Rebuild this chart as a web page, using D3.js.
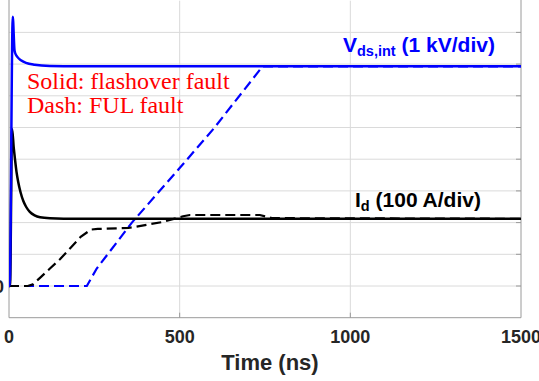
<!DOCTYPE html>
<html>
<head>
<meta charset="utf-8">
<script src="https://cdn.jsdelivr.net/npm/d3@7.9.0/dist/d3.min.js"></script>
<style>
  html, body { margin: 0; padding: 0; background: #fff; }
  svg { display: block; }
</style>
</head>
<body>
<svg id="chart" width="539" height="381"></svg>
<script>
// time (ns) / value (div) pairs
const vdsSolidT = [0, 2, 11, 16, 18, 25, 35, 50, 75, 120, 200, 1500];
const vdsSolidV = [0, 0, 8.49, 7.45, 7.35, 7.22, 7.12, 7.04, 6.98, 6.94, 6.93, 6.93];

const vdsDashT = [0, 228, 257, 360, 500, 600, 743, 1500];
const vdsDashV = [0, 0, 0.55, 2.0, 3.72, 4.97, 6.93, 6.93];

const idSolidT = [0, 3, 9, 14, 17.5, 22, 27, 34, 42, 50, 61, 75, 91, 120, 200, 1500];
const idSolidV = [0, 0, 4.95, 4.35, 4.0, 3.6, 3.28, 2.95, 2.68, 2.5, 2.34, 2.23, 2.17, 2.14, 2.12, 2.12];

const idDashT = [0, 55, 70, 90, 120, 150, 180, 210, 240, 260, 350, 450, 510, 530, 735, 770, 1500];
const idDashV = [0, 0, 0.05, 0.25, 0.55, 0.85, 1.2, 1.55, 1.78, 1.8, 1.83, 2.02, 2.2, 2.24, 2.24, 2.14, 2.12];

const xTicks = [0, 500, 1000, 1500];
const yGrid = [0, 1, 2, 3, 4, 5, 6, 7, 8];

const svg = d3.select('#chart');
const x = d3.scaleLinear().domain([0, 1500]).range([9, 521]);
const y = d3.scaleLinear().domain([-1, 9]).range([317.7, 0.7]);

// grid
svg.append('g').selectAll('line').data(yGrid).join('line')
  .attr('x1', x(0)).attr('x2', x(1500))
  .attr('y1', d => y(d)).attr('y2', d => y(d))
  .attr('stroke', '#dadada').attr('stroke-width', 1);
svg.append('g').selectAll('line').data([500, 1000]).join('line')
  .attr('x1', d => x(d)).attr('x2', d => x(d))
  .attr('y1', y(-1)).attr('y2', y(9))
  .attr('stroke', '#dadada').attr('stroke-width', 1);

// box + ticks
const axisCol = '#9a9a9a';
svg.append('line').attr('x1', x(0)).attr('x2', x(0)).attr('y1', y(-1)).attr('y2', 0)
  .attr('stroke', axisCol);
svg.append('line').attr('x1', x(1500)).attr('x2', x(1500)).attr('y1', y(-1)).attr('y2', 0)
  .attr('stroke', axisCol);
svg.append('line').attr('x1', x(0)).attr('x2', x(1500)).attr('y1', y(-1)).attr('y2', y(-1))
  .attr('stroke', axisCol);
svg.append('g').selectAll('line').data(yGrid).join('line')
  .attr('x1', x(1500) - 5).attr('x2', x(1500))
  .attr('y1', d => y(d)).attr('y2', d => y(d))
  .attr('stroke', axisCol);
svg.append('g').selectAll('line').data([500, 1000]).join('line')
  .attr('x1', d => x(d)).attr('x2', d => x(d))
  .attr('y1', y(-1)).attr('y2', y(-1) - 5)
  .attr('stroke', axisCol);

// tick labels
svg.append('g').selectAll('text').data(xTicks).join('text')
  .attr('x', d => x(d)).attr('y', 343)
  .attr('text-anchor', 'middle')
  .attr('font-family', 'Liberation Sans, Arial, sans-serif')
  .attr('font-weight', 'bold').attr('font-size', 18).attr('fill', '#262626')
  .text(d => d);
svg.append('text').attr('x', 4).attr('y', y(0) + 6.5)
  .attr('text-anchor', 'end')
  .attr('font-family', 'Liberation Sans, Arial, sans-serif')
  .attr('font-weight', 'bold').attr('font-size', 18).attr('fill', '#262626')
  .text('0');
svg.append('text').attr('x', 270).attr('y', 370)
  .attr('text-anchor', 'middle')
  .attr('font-family', 'Liberation Sans, Arial, sans-serif')
  .attr('font-weight', 'bold').attr('font-size', 22).attr('fill', '#262626')
  .text('Time (ns)');

// curves
svg.append('clipPath').attr('id', 'clip').append('rect')
  .attr('x', x(0)).attr('y', 0).attr('width', x(1500) - x(0)).attr('height', y(-1));
const plot = svg.append('g').attr('clip-path', 'url(#clip)');
const series = [
  { t: vdsDashT, v: vdsDashV, color: '#0000ff', dash: '10,5', w: 2.2, curve: d3.curveLinear },
  { t: idDashT, v: idDashV, color: '#000', dash: '10,5', w: 2.2, curve: d3.curveLinear },
  { t: idSolidT, v: idSolidV, color: '#000', dash: null, w: 2.5, curve: d3.curveMonotoneX },
  { t: vdsSolidT, v: vdsSolidV, color: '#0000ff', dash: null, w: 2.5, curve: d3.curveMonotoneX }
];
series.forEach(s => {
  const line = d3.line().x(d => x(d[0])).y(d => y(d[1])).curve(s.curve);
  plot.append('path')
    .attr('d', line(d3.zip(s.t, s.v)))
    .attr('fill', 'none')
    .attr('stroke', s.color)
    .attr('stroke-width', s.w)
    .attr('stroke-dasharray', s.dash);
});

// annotations
const vLab = svg.append('text').attr('x', 343).attr('y', 52)
  .attr('font-family', 'Liberation Sans, Arial, sans-serif')
  .attr('font-weight', 'bold').attr('font-size', 21).attr('fill', '#0000ff');
vLab.append('tspan').text('V');
vLab.append('tspan').attr('font-size', 14.5).attr('dy', 4).text('ds,int');
vLab.append('tspan').attr('dy', -4).text(' (1 kV/div)');

const iLab = svg.append('text').attr('x', 355).attr('y', 207)
  .attr('font-family', 'Liberation Sans, Arial, sans-serif')
  .attr('font-weight', 'bold').attr('font-size', 21).attr('fill', '#000');
iLab.append('tspan').text('I');
iLab.append('tspan').attr('font-size', 14.5).attr('dy', 4).text('d');
iLab.append('tspan').attr('dy', -4).text(' (100 A/div)');

svg.append('text').attr('x', 27).attr('y', 89)
  .attr('font-family', 'Liberation Serif, Times New Roman, serif')
  .attr('font-size', 24).attr('fill', '#ff0000')
  .text('Solid: flashover fault');
svg.append('text').attr('x', 27).attr('y', 113)
  .attr('font-family', 'Liberation Serif, Times New Roman, serif')
  .attr('font-size', 24).attr('fill', '#ff0000')
  .text('Dash: FUL fault');
</script>
</body>
</html>
